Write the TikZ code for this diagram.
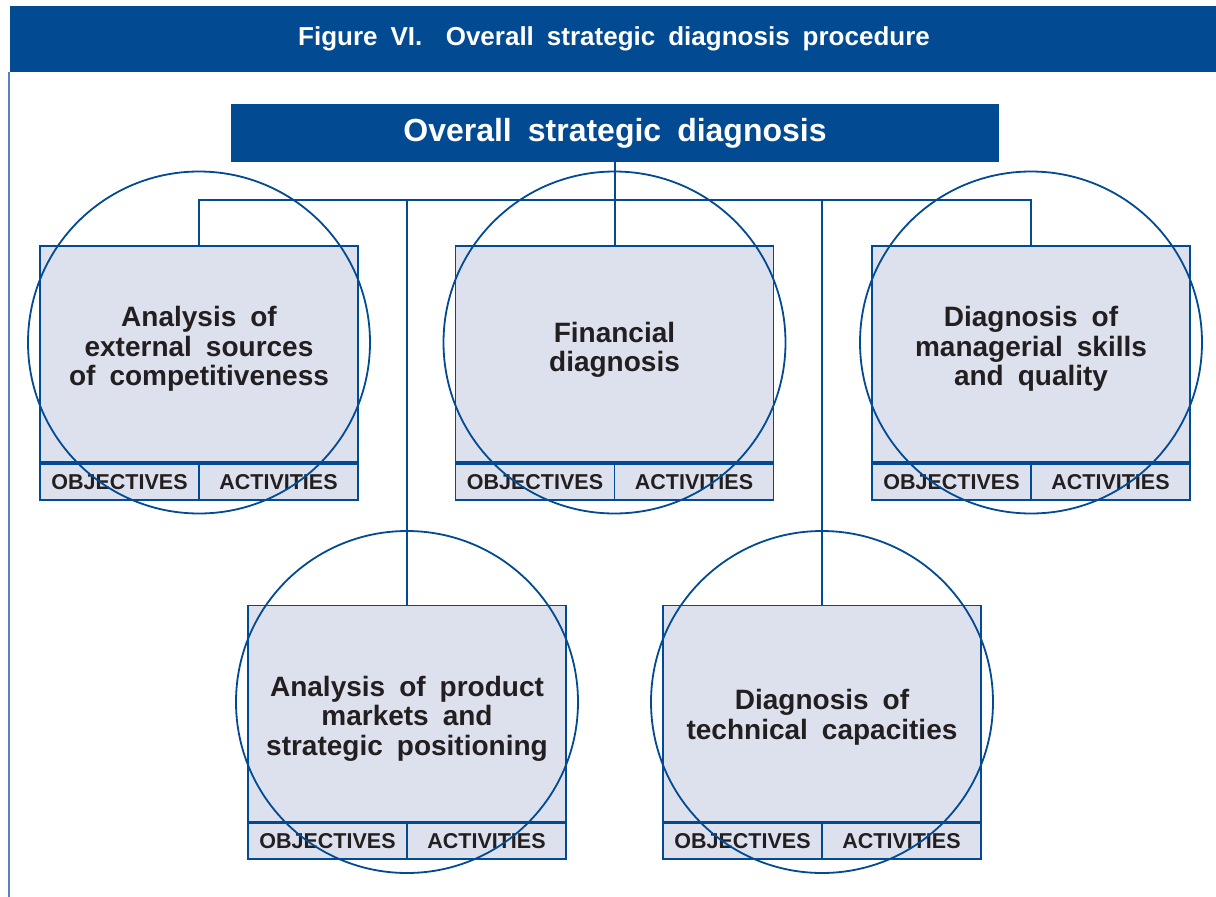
\documentclass[tikz,border=0pt]{standalone}
\usepackage{fontspec}
\setmainfont{Liberation Sans}[WordSpace=1.8]
\usetikzlibrary{positioning}
\definecolor{diagblue}{RGB}{2,74,145}
\definecolor{boxfill}{RGB}{221,225,238}
\definecolor{framebl}{RGB}{88,128,188}
\definecolor{inkblack}{RGB}{35,31,32}

\tikzset{
  banner/.style={fill=diagblue, text=white, inner sep=0pt},
  unit/.style={draw=diagblue, line width=1.9pt, fill=boxfill, minimum width=318pt,
    minimum height=216pt},
  caption/.style={align=center, text=inkblack, inner sep=0pt,
    font=\fontsize{28}{29.5}\selectfont\bfseries},
  tab/.style={draw=diagblue, line width=1.9pt, fill=boxfill, minimum width=159pt,
    minimum height=36pt, inner sep=0pt, text=inkblack,
    font=\fontsize{21.5}{23}\selectfont\bfseries},
  ring/.style={draw=diagblue, circle, line width=1.8pt, minimum size=342pt, inner sep=0pt},
  link/.style={draw=diagblue, line width=1.9pt},
}

\begin{document}
\begin{tikzpicture}[x=1pt,y=-1pt]
\useasboundingbox (0,0) rectangle (1216,897);

% heading
\node[banner, minimum width=1208pt, minimum height=66pt,
  font=\fontsize{26}{30}\selectfont\bfseries] (title) at (614,39)
  {Figure VI.\hspace{0.9em}Overall strategic diagnosis procedure};
\draw[framebl, line width=1.5pt] (8.75,72) -- (8.75,897);

\node[banner, minimum width=768pt, minimum height=58pt,
  font=\fontsize{32}{34}\selectfont\bfseries] (root) at (615,133)
  {Overall strategic diagnosis};

% the five diagnoses
\node[unit] (ext)  at (199,354)   {};
\node[unit] (fin)  at (614.5,354) {};
\node[unit] (mgr)  at (1031,354)  {};
\node[unit] (mkt)  at (407,713.5) {};
\node[unit] (tech) at (822,713.5) {};

\node[caption] (ext-txt)  at ([yshift=5pt]ext)   {Analysis of\\external sources\\of competitiveness};
\node[caption] (fin-txt)  at ([yshift=4pt]fin)   {Financial\\diagnosis};
\node[caption] (mgr-txt)  at ([yshift=5pt]mgr)   {Diagnosis of\\managerial skills\\and quality};
\node[caption] (mkt-txt)  at ([yshift=-5pt]mkt)  {Analysis of product\\markets and\\strategic positioning};
\node[caption] (tech-txt) at ([yshift=-4pt]tech) {Diagnosis of\\technical capacities};

\coordinate (bus) at (0,200);
\draw[link] (root) -- (root |- fin.north);
\draw[link] (ext.north) -- (ext.north |- bus) -- (mgr.north |- bus) -- (mgr.north);
\draw[link] (mkt.north) -- (mkt.north |- bus);
\draw[link] (tech.north) -- (tech.north |- bus);

\foreach \n in {ext,fin,mgr,mkt,tech} {
  \node[tab, below right=0pt and 0pt of \n.south west] (\n-obj) {OBJECTIVES};
  \node[tab, below left=0pt and 0pt of \n.south east] (\n-act) {ACTIVITIES};
  \node[ring, yshift=11.5pt] (\n-ring) at (\n) {};
}
\end{tikzpicture}
\end{document}
